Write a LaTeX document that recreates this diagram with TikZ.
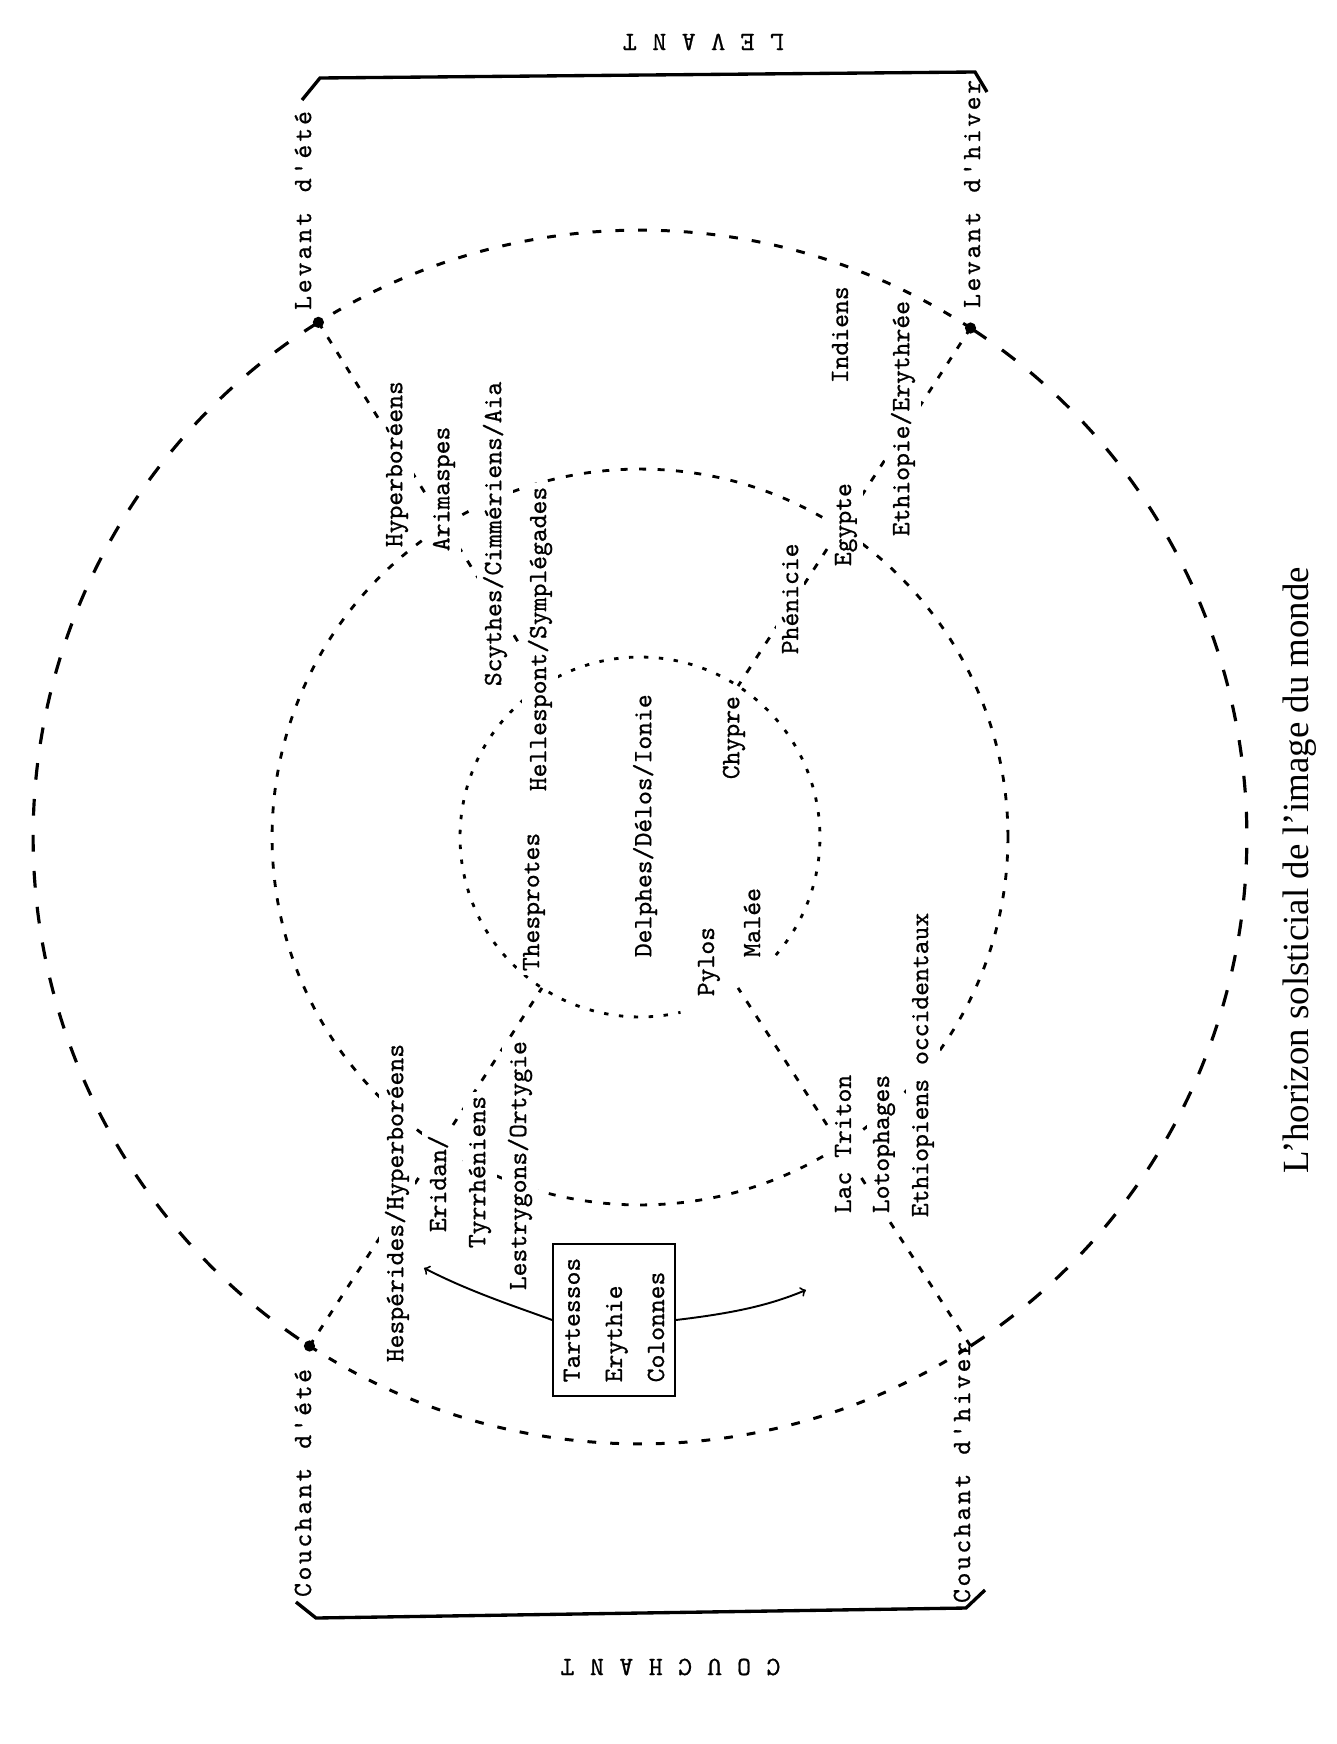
\documentclass[tikz,border=0pt]{standalone}
\usepackage{fontspec}
\newfontfamily\legendfont{Liberation Serif}
\newfontfamily\typewriter[FakeBold=0.8]{lmmono10-regular.otf}
\usetikzlibrary{calc}
% letter-spaced typewriter text
\newcommand\spaced[2]{\def\spacedkern{#2}\spacedloop#1\relax}
\def\spacedloop#1{\ifx#1\relax\else#1\kern\spacedkern\relax\expandafter\spacedloop\fi}

\begin{document}
\begin{tikzpicture}[x=0.02cm, y=-0.02cm,
  lab/.style={font=\typewriter\fontsize{15}{18}\selectfont, rotate=90, anchor=west, fill=white, inner xsep=2pt, inner ysep=3.5pt},
  corner/.style={font=\typewriter\fontsize{15}{18}\selectfont, rotate=90, anchor=west, inner sep=1pt},
  heading/.style={font=\typewriter\fontsize{15}{18}\selectfont, rotate=180},
  outerside/.style={line width=1.8pt, dash pattern=on 9.5pt off 11pt},
  outerend/.style={line width=1.7pt, dash pattern=on 5pt off 8pt},
  ring/.style={line width=1.6pt, dash pattern=on 4pt off 6.5pt},
  innerring/.style={line width=1.6pt, dash pattern=on 2.5pt off 6pt},
  spoke/.style={line width=1.6pt, dash pattern=on 4pt off 6pt},
  bracket/.style={line width=1.9pt}]

\useasboundingbox (0,0) rectangle (1336,1744);

% centre and the four solstice points
\coordinate (C) at (640,837);
\coordinate (lete) at ($(C)+(122:12.14cm)$);
\coordinate (lhiv) at ($(C)+(57:12.14cm)$);
\coordinate (cete) at ($(C)+(237:12.14cm)$);
\coordinate (chiv) at ($(C)+(303:12.14cm)$);
\coordinate (nwin) at ($(C)+(122:3.6cm)$);
\coordinate (nein) at ($(C)+(57:3.6cm)$);
\coordinate (swin) at ($(C)+(237:3.6cm)$);
\coordinate (sein) at ($(C)+(303:3.6cm)$);

% outer horizon
\draw[outerside] (lete) arc[start angle=122, end angle=237, radius=12.14cm];
\draw[outerside] (chiv) arc[start angle=-57, end angle=57, radius=12.14cm];
\draw[outerend] (lhiv) arc[start angle=57, end angle=122, radius=12.14cm];
\draw[outerend] (cete) arc[start angle=237, end angle=303, radius=12.14cm];

% middle and inner rings
\draw[ring] (C) circle[radius=7.36cm];
\draw[innerring] ($(C)+(-41:3.6cm)$) arc[start angle=-41, end angle=283, radius=3.6cm];

% spokes
\draw[spoke] (lete) -- (nwin);
\draw[spoke] (lhiv) -- (nein);
\draw[spoke] (cete) -- (swin);
\draw[spoke] (chiv) -- (sein);

% brackets
\draw[bracket] (302,100) -- (320,78) -- (975,72) -- (987,92);
\draw[bracket] (296,1602) -- (316,1618) -- (966,1608) -- (985,1590);

\node[heading] (levant) at (703,42) {\spaced{L\ E\ V\ A\ N\ T}{0.5pt}};
\node[heading] (couchant) at (670,1667) {\spaced{C\ O\ U\ C\ H\ A\ N\ T}{0.5pt}};

\node[corner] (levete) at (303,312) {\spaced{Levant\ d'été}{1.7pt}};
\node[corner] (levhiv) at (972,310) {\spaced{Levant\ d'hiver}{1.5pt}};
\node[corner] (couete) at (303,1599) {\spaced{Couchant\ d'été}{1.5pt}};
\node[corner] (couhiv) at (962,1605) {\spaced{Couchant\ d'hiver}{1.5pt}};

% names
\node[lab] (hyper) at (397,551) {Hyperboréens};
\node[lab] (arim) at (444,555) {Arimaspes};
\node[lab] (scyth) at (495,690) {Scythes/Cimmériens/Aia};
\node[lab] (helle) at (540,795) {Hellespont/Symplégades};
\node[lab] (thesp) at (534,975) {Thesprotes};
\node[lab] (delph) at (645,961) {Delphes/Délos/Ionie};
\node[lab] (chyp) at (734,783) {Chypre};
\node[lab] (pylos) at (709,1000) {Pylos};
\node[lab] (malee) at (752,961) {Malée};
\node[lab] (phen) at (790,658) {Phénicie};
\node[lab] (egypt) at (846,570) {Egypte};
\node[lab] (ethery) at (903,540) {Ethiopie/Erythrée};
\node[lab] (indiens) at (840,387) {Indiens};
\node[lab] (ethocc) at (923,1221) {Ethiopiens occidentaux};
\node[lab] (lac) at (843,1217) {Lac Triton};
\node[lab] (loto) at (884,1217) {Lotophages};
\node[lab] (hesp) at (397,1366) {Hespérides/Hyperboréens};
\node[lab] (eridan) at (438,1236) {Eridan/};
\node[lab] (tyrr) at (480,1252) {Tyrrhéniens};
\node[lab] (lestr) at (520,1294) {Lestrygons/Ortygie};

\node[draw, line width=1.1pt, rotate=90, align=left, inner xsep=8pt, inner ysep=6pt,
  font=\typewriter\fontsize{15}{24}\selectfont] (box) at (614,1320)
  {Tartessos\\Erythie\\Colonnes};
\coordinate (westtip) at (424,1268);
\coordinate (easttip) at (806,1290);
\draw[->, line width=1.1pt] (box.north) .. controls (520,1308) and (470,1292) .. (westtip);
\draw[->, line width=1.1pt] (box.south) .. controls (735,1313) and (770,1305) .. (easttip);

\fill (lete) circle[radius=3.2pt];
\fill (lhiv) circle[radius=3.2pt];
\fill (cete) circle[radius=3.2pt];

\node[font=\legendfont\fontsize{21}{25}\selectfont, rotate=90] (legend) at (1300,870)
  {L’horizon solsticial de l’image du monde};

\end{tikzpicture}
\end{document}
